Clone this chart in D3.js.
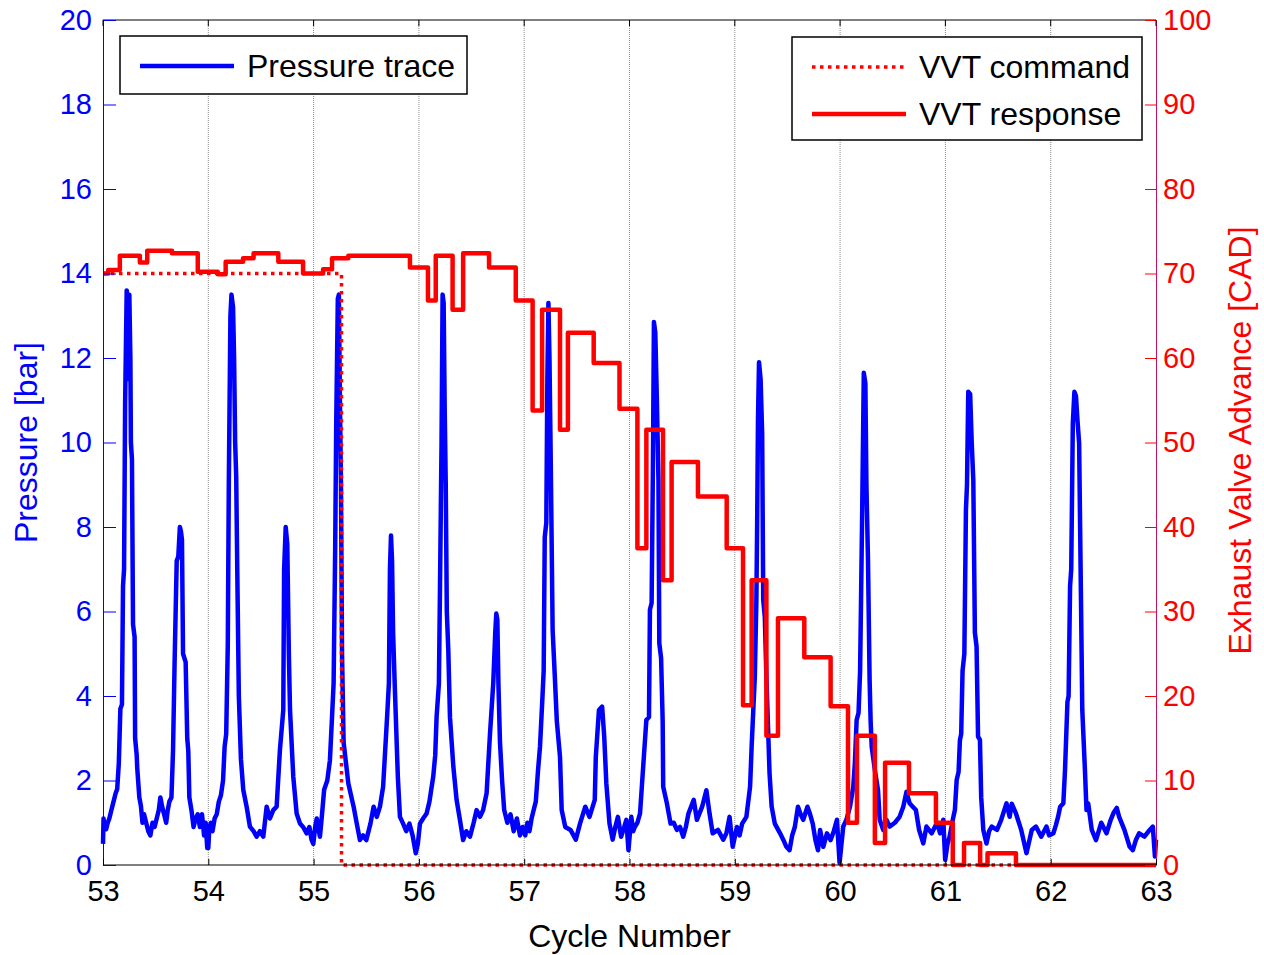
<!DOCTYPE html>
<html>
<head>
<meta charset="utf-8">
<script src="https://cdn.jsdelivr.net/npm/d3@7"></script>
<style>
  body { margin: 0; background: #fff; }
  svg { display: block; font-family: "Liberation Sans", Arial, sans-serif; }
</style>
</head>
<body>
<div class="graph_wrapper"></div>
<script>
// axis ticks
const cycleTicks = [53, 54, 55, 56, 57, 58, 59, 60, 61, 62, 63]
const pressureTicks = [0, 2, 4, 6, 8, 10, 12, 14, 16, 18, 20]
const vvtTicks = [0, 10, 20, 30, 40, 50, 60, 70, 80, 90, 100]

// pressure trace [cycle, bar], one cycle at a time
const trace53 = [[53.000,0.5],[53.005,1.1],[53.015,0.9],[53.03,0.85],[53.045,1.0],[53.06,1.1],[53.08,1.3],[53.10,1.5],[53.12,1.7],[53.135,1.8],[53.15,2.4],[53.165,3.7],[53.18,3.8],[53.19,6.6],[53.20,7.0],[53.21,10.9],[53.225,13.6],[53.235,13.4],[53.245,11.5],[53.25,13.5],[53.26,12.0],[53.265,10.0],[53.275,9.6],[53.285,5.7],[53.30,5.4],[53.305,3.0],[53.32,2.6],[53.325,2.3],[53.345,1.6],[53.36,1.4],[53.375,1.0],[53.39,1.2],[53.41,1.0],[53.43,0.8],[53.45,0.7],[53.47,1.0],[53.49,0.9],[53.51,1.1],[53.53,1.3],[53.545,1.6],[53.56,1.4],[53.58,1.2],[53.60,1.0],[53.615,1.3],[53.63,1.5],[53.65,1.6],[53.665,2.7],[53.68,4.8],[53.70,7.2],[53.715,7.3],[53.73,8.0],[53.74,7.9],[53.75,7.7],[53.76,5.0],[53.785,4.8],[53.80,3.0],[53.81,2.7],[53.82,1.6],[53.84,1.3],[53.86,0.9],[53.88,1.1],[53.90,1.2],[53.92,0.9],[53.94,1.2],[53.96,0.7],[53.975,1.0],[53.99,0.4]]
const trace54 = [[54.00,0.4],[54.01,0.9],[54.025,1.0],[54.04,0.8],[54.06,1.1],[54.08,1.2],[54.10,1.5],[54.12,1.65],[54.14,2.0],[54.155,2.8],[54.17,3.1],[54.185,5.2],[54.195,9.1],[54.21,13.0],[54.22,13.5],[54.235,13.2],[54.245,12.0],[54.255,10.0],[54.265,9.2],[54.275,7.0],[54.29,4.0],[54.31,2.5],[54.332,1.78],[54.364,1.38],[54.395,0.91],[54.43,0.8],[54.459,0.67],[54.49,0.8],[54.522,0.67],[54.554,1.38],[54.585,1.1],[54.617,1.3],[54.649,1.38],[54.68,2.72],[54.712,3.67],[54.72,7.0],[54.735,8.0],[54.75,7.6],[54.765,5.0],[54.776,3.67],[54.807,2.09],[54.839,1.22],[54.871,0.98],[54.90,0.9],[54.934,0.75],[54.96,0.9],[54.98,0.6],[54.997,0.5]]
const trace55 = [[55.015,0.9],[55.03,1.1],[55.05,0.8],[55.06,0.67],[55.08,1.2],[55.10,1.78],[55.13,2.0],[55.155,2.48],[55.175,3.5],[55.19,4.3],[55.205,7.5],[55.215,10.5],[55.23,13.4],[55.24,13.5],[55.25,11.0],[55.26,9.0],[55.27,5.0],[55.285,2.9],[55.33,1.93],[55.38,1.38],[55.41,0.98],[55.44,0.59],[55.47,0.7],[55.50,0.59],[55.54,0.98],[55.57,1.38],[55.60,1.14],[55.63,1.38],[55.66,1.85],[55.68,2.72],[55.70,3.6],[55.715,4.3],[55.725,7.0],[55.735,7.8],[55.745,7.2],[55.755,5.5],[55.77,4.3],[55.80,2.09],[55.82,1.14],[55.85,0.98],[55.88,0.8],[55.91,0.98],[55.94,0.7],[55.97,0.28],[55.99,0.5]]
const trace56 = [[56.01,0.98],[56.04,1.1],[56.073,1.22],[56.10,1.5],[56.136,2.09],[56.155,2.6],[56.168,3.5],[56.19,4.3],[56.20,6.5],[56.215,10.0],[56.225,13.5],[56.235,13.3],[56.245,10.8],[56.255,9.0],[56.265,6.0],[56.279,5.1],[56.295,3.5],[56.327,2.33],[56.358,1.54],[56.39,1.06],[56.42,0.59],[56.45,0.8],[56.485,0.67],[56.52,1.0],[56.548,1.30],[56.58,1.14],[56.61,1.3],[56.643,1.7],[56.675,3.1],[56.706,4.3],[56.725,5.5],[56.735,5.95],[56.745,5.8],[56.755,4.3],[56.77,2.9],[56.79,2.0],[56.81,1.3],[56.84,1.0],[56.87,1.2],[56.90,0.8],[56.93,1.1],[56.96,0.7],[56.985,0.9]]
const trace57 = [[57.01,0.7],[57.03,1.0],[57.05,0.8],[57.07,1.1],[57.09,1.3],[57.11,1.5],[57.13,2.2],[57.15,2.8],[57.17,3.8],[57.185,4.6],[57.195,7.76],[57.21,8.1],[57.22,11.5],[57.23,13.3],[57.24,12.0],[57.25,10.0],[57.26,7.8],[57.27,5.56],[57.29,4.5],[57.31,3.4],[57.34,2.56],[57.356,1.3],[57.39,0.9],[57.44,0.83],[57.49,0.6],[57.53,0.98],[57.58,1.38],[57.62,1.14],[57.67,1.54],[57.68,2.56],[57.71,3.67],[57.74,3.75],[57.76,3.04],[57.78,1.93],[57.81,0.98],[57.84,0.6],[57.865,0.9],[57.89,1.14],[57.92,0.67],[57.95,0.9],[57.97,1.07],[57.99,0.35]]
const trace58 = [[58.017,1.14],[58.035,0.8],[58.05,0.9],[58.075,1.0],[58.10,1.22],[58.115,1.77],[58.13,2.33],[58.16,3.43],[58.185,3.5],[58.194,6.04],[58.21,6.2],[58.222,9.35],[58.232,12.85],[58.245,12.6],[58.26,11.0],[58.275,9.1],[58.283,5.25],[58.30,4.9],[58.315,3.4],[58.32,1.85],[58.355,1.46],[58.39,0.98],[58.42,1.0],[58.45,0.83],[58.48,0.9],[58.51,0.67],[58.535,0.9],[58.56,1.22],[58.61,1.54],[58.64,1.07],[58.69,1.38],[58.73,1.77],[58.76,1.22],[58.79,0.75],[58.84,0.83],[58.89,0.6],[58.92,0.75],[58.95,1.14],[58.98,0.43]]
const trace59 = [[59.02,0.9],[59.045,0.7],[59.07,0.98],[59.11,1.14],[59.145,1.85],[59.16,2.8],[59.19,4.46],[59.205,6.27],[59.212,8.0],[59.22,10.5],[59.23,11.9],[59.245,11.5],[59.26,10.2],[59.27,6.27],[59.285,5.87],[59.30,4.46],[59.33,2.17],[59.35,1.38],[59.38,0.98],[59.43,0.75],[59.46,0.6],[59.49,0.43],[59.52,0.35],[59.545,0.7],[59.57,0.9],[59.60,1.38],[59.625,1.2],[59.65,1.07],[59.69,1.38],[59.715,1.2],[59.74,0.98],[59.765,0.6],[59.79,0.35],[59.81,0.83],[59.84,0.43],[59.875,0.75],[59.91,0.59],[59.94,0.8],[59.97,1.07],[59.995,0.05]]
const trace60 = [[60.03,0.91],[60.06,1.07],[60.094,1.38],[60.125,1.85],[60.14,2.4],[60.157,3.43],[60.175,3.6],[60.19,4.6],[60.20,6.5],[60.21,8.4],[60.225,11.65],[60.24,11.4],[60.25,9.0],[60.265,7.2],[60.28,4.4],[60.29,3.4],[60.30,2.8],[60.33,2.25],[60.36,1.77],[60.376,1.07],[60.41,0.83],[60.44,1.07],[60.47,0.91],[60.52,1.0],[60.565,1.14],[60.60,1.38],[60.63,1.73],[60.66,1.46],[60.69,1.38],[60.72,1.3],[60.75,0.83],[60.79,0.51],[60.82,0.91],[60.87,0.75],[60.92,1.0],[60.95,0.75],[60.98,1.07],[60.998,0.12]]
const trace61 = [[61.02,0.5],[61.04,0.67],[61.07,1.07],[61.09,1.3],[61.107,2.01],[61.125,2.2],[61.138,2.96],[61.15,3.1],[61.163,4.6],[61.18,5.0],[61.195,8.4],[61.205,9.0],[61.217,11.2],[61.235,11.15],[61.25,10.0],[61.265,9.11],[61.28,5.5],[61.296,5.17],[61.31,3.04],[61.328,2.96],[61.34,1.6],[61.36,0.83],[61.39,0.51],[61.415,0.8],[61.44,0.91],[61.49,0.83],[61.53,1.07],[61.58,1.46],[61.61,1.14],[61.63,1.45],[61.67,1.22],[61.72,0.83],[61.77,0.28],[61.82,0.83],[61.86,0.91],[61.91,0.67],[61.96,0.91],[61.985,0.7]]
const trace62 = [[62.025,0.75],[62.05,0.95],[62.07,1.14],[62.09,1.38],[62.12,1.46],[62.136,2.25],[62.159,3.86],[62.17,4.0],[62.184,6.6],[62.195,7.0],[62.21,10.45],[62.225,11.2],[62.24,11.1],[62.255,10.5],[62.27,9.98],[62.286,6.6],[62.30,3.67],[62.325,2.25],[62.34,1.3],[62.356,1.46],[62.39,0.83],[62.43,0.59],[62.48,1.0],[62.53,0.75],[62.57,1.07],[62.60,1.25],[62.627,1.35],[62.65,1.14],[62.70,0.83],[62.75,0.43],[62.78,0.35],[62.81,0.6],[62.84,0.75],[62.89,0.67],[62.94,0.83],[62.97,0.91],[62.99,0.2],[63.0,0.6]]

// VVT [cycle, CAD], each value holds until the next point
const vvtCommand = [[53.0,70],[55.265,0],[63.0,0]]
const vvtResponse = [[53.00,70.0],[53.05,70.4],[53.16,72.1],[53.35,71.3],[53.42,72.7],[53.655,72.4],[53.90,70.2],[54.09,69.9],[54.165,71.4],[54.33,71.8],[54.43,72.4],[54.665,71.4],[54.90,70.0],[55.09,70.5],[55.175,71.8],[55.33,72.1],[55.915,70.7],[56.086,66.8],[56.16,72.1],[56.32,65.7],[56.42,72.4],[56.666,70.7],[56.92,66.8],[57.08,53.8],[57.17,65.7],[57.34,51.5],[57.415,63.0],[57.66,59.4],[57.905,54.0],[58.075,37.5],[58.16,51.5],[58.318,33.7],[58.40,47.7],[58.65,43.6],[58.923,37.5],[59.078,18.9],[59.16,33.7],[59.30,15.3],[59.41,29.2],[59.66,24.6],[59.91,18.8],[60.075,5.0],[60.16,15.3],[60.33,2.6],[60.427,12.1],[60.654,8.5],[60.91,5.0],[61.07,0],[61.177,2.6],[61.33,0],[61.40,1.4],[61.67,0],[63.0,0]]

const pressureTrace = [].concat(trace53, trace54, trace55, trace56, trace57, trace58, trace59, trace60, trace61, trace62)

const width = 1264
const height = 955
const plotLeft = 103, plotRight = 1156, plotTop = 20, plotBottom = 865
const blue = "#0000ff"
const red = "#ff0000"
const tickFont = "29px"
const labelFont = "32px"

const svg = d3.select('.graph_wrapper')
    .append('svg')
    .attr('width', width)
    .attr('height', height)

const x = d3.scaleLinear().domain([53, 63]).range([plotLeft, plotRight])
const yP = d3.scaleLinear().domain([0, 20]).range([plotBottom, plotTop])
const yV = d3.scaleLinear().domain([0, 100]).range([plotBottom, plotTop])

// dotted vertical grid
svg.append("g")
    .selectAll("line")
    .data(cycleTicks.slice(1, -1))
    .join("line")
    .attr("x1", d => x(d)).attr("x2", d => x(d))
    .attr("y1", plotTop).attr("y2", plotBottom)
    .attr("stroke", "#8c8c8c")
    .attr("stroke-width", 1)
    .attr("stroke-dasharray", "1,1")

// traces
svg.append("path")
    .datum(pressureTrace)
    .attr("fill", "none")
    .attr("stroke", blue)
    .attr("stroke-width", 4.5)
    .attr("stroke-linejoin", "round")
    .attr("d", d3.line().x(d => x(d[0])).y(d => yP(d[1])))

svg.append("path")
    .datum(vvtCommand)
    .attr("fill", "none")
    .attr("stroke", red)
    .attr("stroke-width", 3.5)
    .attr("stroke-dasharray", "3.5,4.5")
    .attr("d", d3.line().curve(d3.curveStepAfter).x(d => x(d[0])).y(d => yV(d[1])))

svg.append("path")
    .datum(vvtResponse)
    .attr("fill", "none")
    .attr("stroke", red)
    .attr("stroke-width", 4.5)
    .attr("stroke-linejoin", "round")
    .attr("d", d3.line().curve(d3.curveStepAfter).x(d => x(d[0])).y(d => yV(d[1])))

// box: black top and bottom, blue left, red right
svg.append("line").attr("x1", plotLeft).attr("x2", plotRight).attr("y1", plotTop).attr("y2", plotTop).attr("stroke", "#000")
svg.append("line").attr("x1", plotLeft).attr("x2", plotRight).attr("y1", plotBottom).attr("y2", plotBottom).attr("stroke", "#000")

// left axis, ticks inward
const axisL = d3.axisLeft(yP).tickValues(pressureTicks).tickSize(-13).tickPadding(11)
const gL = svg.append("g").attr("transform", `translate(${plotLeft},0)`).call(axisL)
gL.attr("font-family", null).attr("font-size", null)
gL.select(".domain").attr("stroke", blue)
gL.selectAll(".tick line").attr("stroke", blue)
gL.selectAll(".tick text").attr("fill", blue).style("font-size", tickFont)

// right axis, ticks inward
const axisR = d3.axisRight(yV).tickValues(vvtTicks).tickSize(-11).tickPadding(7)
const gR = svg.append("g").attr("transform", `translate(${plotRight},0)`).call(axisR)
gR.attr("font-family", null).attr("font-size", null)
gR.select(".domain").attr("stroke", "#c8105a")
gR.selectAll(".tick line").attr("stroke", red)
gR.selectAll(".tick text").attr("fill", red).style("font-size", tickFont)

// bottom axis, short ticks inward
const axisB = d3.axisBottom(x).tickValues(cycleTicks).tickSize(-6).tickPadding(15)
const gB = svg.append("g").attr("transform", `translate(0,${plotBottom})`).call(axisB)
gB.attr("font-family", null).attr("font-size", null)
gB.select(".domain").remove()
gB.selectAll(".tick line").attr("stroke", "#000")
gB.selectAll(".tick text").attr("fill", "#000").style("font-size", tickFont)

// top ticks
svg.append("g")
    .selectAll("line")
    .data(cycleTicks)
    .join("line")
    .attr("x1", d => x(d)).attr("x2", d => x(d))
    .attr("y1", plotTop).attr("y2", plotTop + 6)
    .attr("stroke", "#000")

// axis titles
svg.append("text")
    .attr("transform", `translate(37,${(plotTop + plotBottom) / 2}) rotate(-90)`)
    .attr("text-anchor", "middle")
    .attr("fill", blue)
    .style("font-size", labelFont)
    .text("Pressure [bar]")

svg.append("text")
    .attr("transform", `translate(1251,${(plotTop + plotBottom) / 2 - 2}) rotate(-90)`)
    .attr("text-anchor", "middle")
    .attr("fill", red)
    .style("font-size", labelFont)
    .text("Exhaust Valve Advance [CAD]")

svg.append("text")
    .attr("x", (plotLeft + plotRight) / 2)
    .attr("y", 947)
    .attr("text-anchor", "middle")
    .attr("fill", "#000")
    .style("font-size", labelFont)
    .text("Cycle Number")

// legends
const legend = (x0, y0, w, h, items) => {
    const g = svg.append("g")
    g.append("rect")
        .attr("x", x0).attr("y", y0).attr("width", w).attr("height", h)
        .attr("fill", "#fff").attr("stroke", "#000").attr("stroke-width", 1.5)
    items.forEach((it, i) => {
        const cy = y0 + 30 + i * 47
        g.append("line")
            .attr("x1", x0 + 20).attr("x2", x0 + 114)
            .attr("y1", cy).attr("y2", cy)
            .attr("stroke", it.color)
            .attr("stroke-width", it.dash ? 3.5 : 4.5)
            .attr("stroke-dasharray", it.dash)
        g.append("text")
            .attr("x", x0 + 127).attr("y", cy + 11)
            .attr("fill", "#000")
            .style("font-size", labelFont)
            .text(it.label)
    })
}
legend(120, 36, 347, 58, [{ label: "Pressure trace", color: blue }])
legend(792, 37, 350, 103, [
    { label: "VVT command", color: red, dash: "3.5,4.5" },
    { label: "VVT response", color: red }
])
</script>
</body>
</html>
